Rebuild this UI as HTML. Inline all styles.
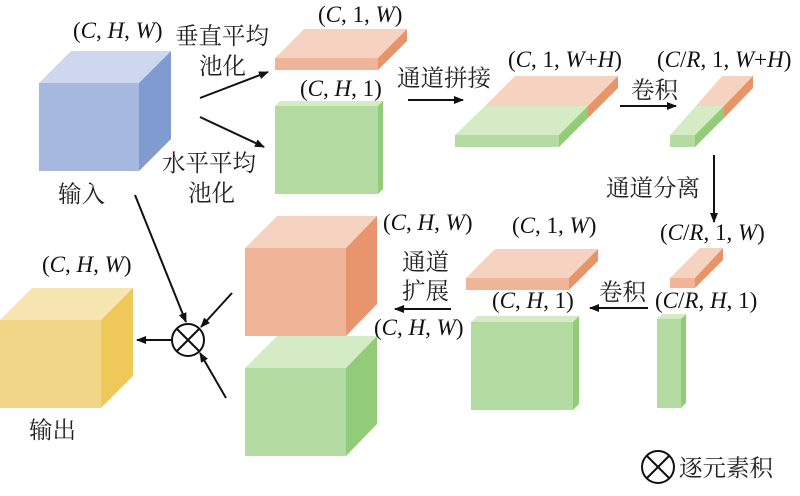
<!DOCTYPE html>
<html><head><meta charset="utf-8"><style>
html,body{margin:0;padding:0;background:#fff;}
svg{display:block;}
.t{font-family:"Liberation Serif","Noto Serif CJK SC",serif;font-size:23px;fill:#111;}
.c{font-family:"Liberation Serif","Noto Serif CJK SC",serif;font-size:23.5px;fill:#222;}
.i{font-style:italic;}
</style></head><body>
<svg width="800" height="496" viewBox="0 0 800 496" xmlns="http://www.w3.org/2000/svg">
<defs>
<marker id="a" markerWidth="10" markerHeight="8" refX="9" refY="4" orient="auto" markerUnits="userSpaceOnUse">
<path d="M0,0 L10,4 L0,8 Z" fill="#111"/></marker>
</defs>
<polygon points="39,83 71,51 171,51 139,83" fill="#CED7EE"/>
<polygon points="139,83 171,51 171,139 139,171" fill="#7F9BD0"/>
<rect x="39" y="83" width="100" height="88" fill="#A7B8E0"/>
<polygon points="275,58 304,29 407,29 378,58" fill="#F6D3C0"/>
<polygon points="378,58 407,29 407,41 378,70" fill="#E8946B"/>
<rect x="275" y="58" width="103" height="12" fill="#F0B598"/>
<polygon points="275,106 280,101 383,101 378,106" fill="#D4EBC6"/>
<polygon points="378,106 383,101 383,189 378,194" fill="#93CC78"/>
<rect x="275" y="106" width="103" height="88" fill="#B3DBA2"/>
<polygon points="515,76 618,76 588,106 485,106" fill="#F6D3C0"/>
<polygon points="485,106 588,106 559,135 455,135" fill="#D4EBC6"/>
<polygon points="588,106 618,76 618,88 588,118" fill="#E8946B"/>
<polygon points="559,135 588,106 588,118 559,147" fill="#93CC78"/>
<rect x="455" y="135" width="104" height="12" fill="#B3DBA2"/>
<polygon points="722,76 753,76 724,106 696,106" fill="#F6D3C0"/>
<polygon points="696,106 724,106 695,135 670,135" fill="#D4EBC6"/>
<polygon points="724,106 753,76 753,88 724,118" fill="#E8946B"/>
<polygon points="695,135 724,106 724,118 695,147" fill="#93CC78"/>
<rect x="670" y="135" width="25" height="12" fill="#B3DBA2"/>
<polygon points="670,278 700,248 723,248 695,278" fill="#F6D3C0"/>
<polygon points="695,278 723,248 723,260 695,288" fill="#E8946B"/>
<rect x="670" y="278" width="25" height="10" fill="#F0B598"/>
<polygon points="657,319 662,314 686,314 681,319" fill="#D4EBC6"/>
<polygon points="681,319 686,314 686,403 681,408" fill="#93CC78"/>
<rect x="657" y="319" width="24" height="89" fill="#B3DBA2"/>
<polygon points="466,278 495,249 598,249 569,278" fill="#F6D3C0"/>
<polygon points="569,278 598,249 598,261 569,290" fill="#E8946B"/>
<rect x="466" y="278" width="103" height="12" fill="#F0B598"/>
<polygon points="471,322 477,316 579,316 573,322" fill="#D4EBC6"/>
<polygon points="573,322 579,316 579,404 573,410" fill="#93CC78"/>
<rect x="471" y="322" width="102" height="88" fill="#B3DBA2"/>
<polygon points="245,248 277,216 377,216 346,248" fill="#F6D3C0"/>
<polygon points="346,248 377,216 377,304 346,336" fill="#E8956E"/>
<rect x="245" y="248" width="101" height="88" fill="#F0B498"/>
<polygon points="245,368 277,336 377,336 346,368" fill="#D4EBC6"/>
<polygon points="346,368 377,336 377,424 346,456" fill="#93CC78"/>
<rect x="245" y="368" width="101" height="88" fill="#B3DBA2"/>
<polygon points="0,320 32,288 133,288 101,320" fill="#F7E5B2"/>
<polygon points="101,320 133,288 133,376 101,408" fill="#EEC858"/>
<rect x="0" y="320" width="101" height="88" fill="#F2D687"/>
<g stroke="#111" stroke-width="2" fill="none">
<line x1="200" y1="98" x2="268" y2="72" marker-end="url(#a)"/>
<line x1="200" y1="117" x2="264" y2="147" marker-end="url(#a)"/>
<line x1="408" y1="100" x2="463" y2="100" marker-end="url(#a)"/>
<line x1="620" y1="106" x2="676" y2="106" marker-end="url(#a)"/>
<line x1="714" y1="155" x2="714" y2="222" marker-end="url(#a)"/>
<line x1="648" y1="308" x2="590" y2="308" marker-end="url(#a)"/>
<line x1="451" y1="309" x2="395" y2="309" marker-end="url(#a)"/>
<line x1="135" y1="195" x2="186" y2="322" marker-end="url(#a)"/>
<line x1="232" y1="293" x2="201" y2="327" marker-end="url(#a)"/>
<line x1="226" y1="398" x2="200" y2="353" marker-end="url(#a)"/>
<line x1="171" y1="340" x2="137" y2="340" marker-end="url(#a)"/>
<circle cx="188" cy="340" r="16"/>
<line x1="177" y1="329" x2="199" y2="351"/><line x1="199" y1="329" x2="177" y2="351"/>
<circle cx="658" cy="467" r="16"/>
<line x1="647" y1="456" x2="669" y2="478"/><line x1="669" y1="456" x2="647" y2="478"/>
</g>
<text class="t" x="73" y="38">(<tspan class="i">C</tspan>, <tspan class="i">H</tspan>, <tspan class="i">W</tspan>)</text>
<text class="c" x="175" y="44">垂直平均</text>
<text class="c" x="199" y="74">池化</text>
<text class="c" x="162" y="171">水平平均</text>
<text class="c" x="188" y="201">池化</text>
<text class="c" x="58" y="202">输入</text>
<text class="t" x="318" y="22">(<tspan class="i">C</tspan>, 1, <tspan class="i">W</tspan>)</text>
<text class="t" x="300" y="96">(<tspan class="i">C</tspan>, <tspan class="i">H</tspan>, 1)</text>
<text class="c" x="397" y="86">通道拼接</text>
<text class="t" x="508" y="67">(<tspan class="i">C</tspan>, 1, <tspan class="i">W</tspan>+<tspan class="i">H</tspan>)</text>
<text class="t" x="657" y="67">(<tspan class="i">C</tspan>/<tspan class="i">R</tspan>, 1, <tspan class="i">W</tspan>+<tspan class="i">H</tspan>)</text>
<text class="c" x="631" y="98">卷积</text>
<text class="c" x="606" y="196">通道分离</text>
<text class="t" x="660" y="240">(<tspan class="i">C</tspan>/<tspan class="i">R</tspan>, 1, <tspan class="i">W</tspan>)</text>
<text class="t" x="655" y="308">(<tspan class="i">C</tspan>/<tspan class="i">R</tspan>, <tspan class="i">H</tspan>, 1)</text>
<text class="c" x="599" y="300">卷积</text>
<text class="t" x="512" y="233">(<tspan class="i">C</tspan>, 1, <tspan class="i">W</tspan>)</text>
<text class="t" x="492" y="308">(<tspan class="i">C</tspan>, <tspan class="i">H</tspan>, 1)</text>
<text class="c" x="402" y="270">通道</text>
<text class="c" x="402" y="299">扩展</text>
<text class="t" x="383" y="230">(<tspan class="i">C</tspan>, <tspan class="i">H</tspan>, <tspan class="i">W</tspan>)</text>
<text class="t" x="374" y="335">(<tspan class="i">C</tspan>, <tspan class="i">H</tspan>, <tspan class="i">W</tspan>)</text>
<text class="t" x="42" y="272">(<tspan class="i">C</tspan>, <tspan class="i">H</tspan>, <tspan class="i">W</tspan>)</text>
<text class="c" x="29" y="438">输出</text>
<text class="c" x="679" y="476">逐元素积</text>
</svg>
</body></html>
